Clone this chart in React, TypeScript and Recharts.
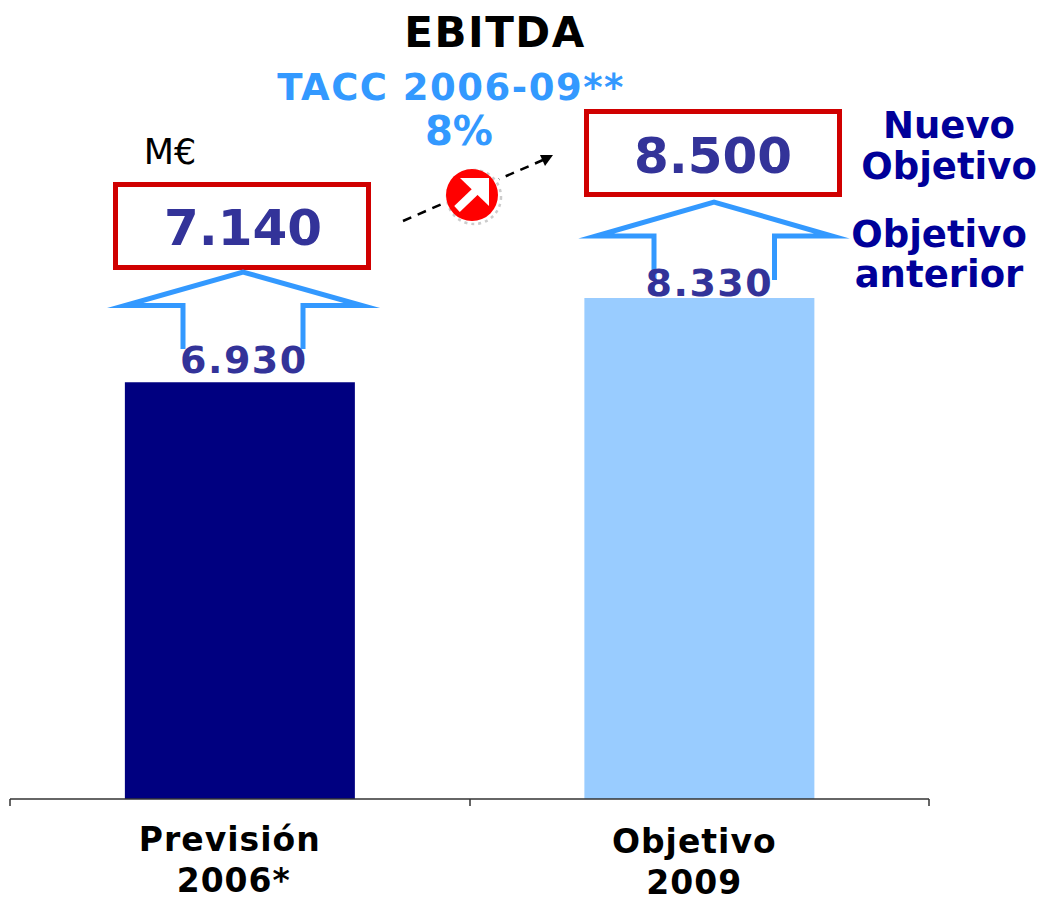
import React from "react";
import { BarChart, Bar, XAxis, YAxis, Cell, LabelList } from "recharts";

const CATEGORIES = ["Previsión\n2006*", "Objetivo\n2009"];
const PREVIOUS_VALUES = [6930, 8330];
const NEW_VALUES = ["7.140", "8.500"];
const BAR_COLORS = ["#000080", "#99CCFF"];
const LABEL_LIFT = [9, 2];
const LABEL_SHIFT = [4, 10];
const TICK_SHIFT = [-10, -5];

const chartData = CATEGORIES.map((category, i) => ({ category, value: PREVIOUS_VALUES[i] }));

const FONT = "'DejaVu Sans', sans-serif";
const BLUE = "#3399FF";
const NAVY = "#000099";
const VALUE_COLOR = "#333399";
const RED = "#D00000";

const formatValue = (v: number) => `${Math.floor(v / 1000)}.${String(v % 1000).padStart(3, "0")}`;

const CategoryTick = ({ x, y, payload, index }: any) => {
  const lines = String(payload.value).split("\n");
  return (
    <g>
      {lines.map((line, i) => (
        <text
          key={line}
          x={x + TICK_SHIFT[index] + (index === 0 ? i * 4 : 0)}
          y={y + 44 + index * 2 + i * 41}
          textAnchor="middle"
          fontFamily={FONT}
          fontWeight="bold"
          fontSize={33}
          letterSpacing={1}
          fill="#000"
        >
          {line}
        </text>
      ))}
    </g>
  );
};

const ValueLabel = ({ x, y, width, value, index }: any) => (
  <text
    x={x + width / 2 + LABEL_SHIFT[index]}
    y={y - LABEL_LIFT[index]}
    textAnchor="middle"
    fontFamily={FONT}
    fontWeight="bold"
    fontSize={38}
    letterSpacing={1.5}
    fill={VALUE_COLOR}
  >
    {formatValue(value)}
  </text>
);

const Note = ({ x, y, size, color, weight = "bold", spacing = 0, children }: any) => (
  <text
    x={x}
    y={y}
    textAnchor="middle"
    fontFamily={FONT}
    fontWeight={weight}
    fontSize={size}
    letterSpacing={spacing}
    fill={color}
  >
    {children}
  </text>
);

const Annotations = () => (
  <g>
    {/* band edge ticks */}
    {[10, 470, 929].map((x) => (
      <line key={x} x1={x} x2={x} y1={799} y2={806} stroke="#333" strokeWidth={1.5} />
    ))}

    <Note x={495} y={47} size={42} spacing={1.5} color="#000">EBITDA</Note>
    <Note x={451} y={100} size={37} spacing={1.5} color={BLUE}>TACC 2006-09**</Note>
    <Note x={459} y={145} size={40} color={BLUE}>8%</Note>
    <Note x={170} y={164} size={35} color="#000" weight="normal">M€</Note>

    {/* red boxes */}
    <rect x={115.5} y={184.5} width={253} height={83} fill="#fff" stroke={RED} strokeWidth={5} />
    <Note x={243} y={245} size={50} color={VALUE_COLOR}>{NEW_VALUES[0]}</Note>
    <rect x={586.5} y={111.5} width={253} height={83} fill="#fff" stroke={RED} strokeWidth={5} />
    <Note x={713} y={173} size={50} color={VALUE_COLOR}>{NEW_VALUES[1]}</Note>

    {/* up arrows */}
    <polyline
      points="183,349 183,305.5 125,305.5 243,272 362,305.5 303,305.5 303,349"
      fill="none"
      stroke={BLUE}
      strokeWidth={5}
      strokeMiterlimit={10}
    />
    <polyline
      points="654,280 654,236 596,236 714,202 832,236 774.5,236 774.5,280"
      fill="none"
      stroke={BLUE}
      strokeWidth={5}
      strokeMiterlimit={10}
    />

    {/* growth arrow */}
    <line x1={403} y1={221} x2={543} y2={160} stroke="#000" strokeWidth={2.5} strokeDasharray="9 7" />
    <polygon points="553,155 540,155 545,166" fill="#000" />
    <circle cx={473} cy={196} r={31} fill="#fff" />
    <circle cx={474} cy={197} r={27} fill="none" stroke="#ccc" strokeWidth={2.5} strokeDasharray="3 4" />
    <circle cx={472} cy={195} r={26} fill="#FF0000" />
    <line x1={457} y1={209} x2={481} y2={186} stroke="#fff" strokeWidth={8} />
    <polygon points="460,178 489,178 489,206" fill="#fff" />

    <Note x={949} y={138} size={37} color={NAVY}>Nuevo</Note>
    <Note x={949} y={179} size={37} color={NAVY}>Objetivo</Note>
    <Note x={939} y={247} size={37} color={NAVY}>Objetivo</Note>
    <Note x={939} y={287} size={37} color={NAVY}>anterior</Note>
  </g>
);

export default function App() {
  return (
    <div style={{ position: "absolute", left: 0, top: 0, width: 1041, height: 897, background: "#fff" }}>
      <BarChart
        width={1041}
        height={897}
        data={chartData}
        margin={{ top: 17, right: 112, bottom: 0, left: 10 }}
        barCategoryGap="25%"
      >
        <XAxis
          dataKey="category"
          interval={0}
          height={98}
          axisLine={{ stroke: "#333", strokeWidth: 1.5 }}
          tickLine={false}
          tick={<CategoryTick />}
        />
        <YAxis hide domain={[0, 13000]} />
        <Annotations />
        <Bar dataKey="value" isAnimationActive={false}>
          {chartData.map((d, i) => (
            <Cell key={d.category} fill={BAR_COLORS[i]} />
          ))}
          <LabelList dataKey="value" content={<ValueLabel />} />
        </Bar>
      </BarChart>
    </div>
  );
}
